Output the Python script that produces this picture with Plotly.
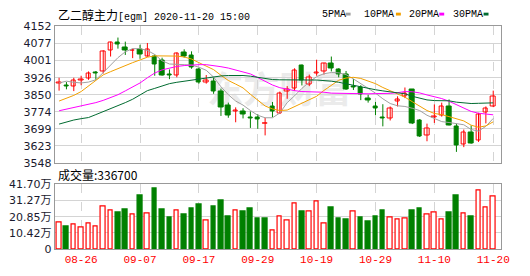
import plotly.graph_objects as go

# ---------------- data ----------------
dates = ["2020-08-21", "2020-08-24", "2020-08-25", "2020-08-26", "2020-08-27", "2020-08-28",
         "2020-08-31", "2020-09-01", "2020-09-02", "2020-09-03", "2020-09-04", "2020-09-07",
         "2020-09-08", "2020-09-09", "2020-09-10", "2020-09-11", "2020-09-14", "2020-09-15",
         "2020-09-16", "2020-09-17", "2020-09-18", "2020-09-21", "2020-09-22", "2020-09-23",
         "2020-09-24", "2020-09-25", "2020-09-28", "2020-09-29", "2020-09-30", "2020-10-09",
         "2020-10-12", "2020-10-13", "2020-10-14", "2020-10-15", "2020-10-16", "2020-10-19",
         "2020-10-20", "2020-10-21", "2020-10-22", "2020-10-23", "2020-10-26", "2020-10-27",
         "2020-10-28", "2020-10-29", "2020-10-30", "2020-11-02", "2020-11-03", "2020-11-04",
         "2020-11-05", "2020-11-06", "2020-11-09", "2020-11-10", "2020-11-11", "2020-11-12",
         "2020-11-13", "2020-11-16", "2020-11-17", "2020-11-18", "2020-11-19", "2020-11-20"]

opens = [3900, 3892, 3888, 3915, 3923, 3948, 3953, 4048, 4082, 4058, 4044, 4051,
         4020, 4020, 4003, 3939, 3933, 4035, 4023, 3962, 3903, 3910, 3863, 3804,
         3774, 3774, 3749, 3750, 3721, 3798, 3767, 3863, 3877, 3981, 3896, 3944,
         3955, 3989, 3961, 3939, 3888, 3882, 3835, 3798, 3750, 3745, 3819, 3840,
         3871, 3736, 3668, 3749, 3759, 3798, 3710, 3630, 3682, 3647, 3773, 3798]
highs = [3925, 3906, 3925, 3934, 3953, 3955, 4047, 4085, 4103, 4085, 4054, 4071,
         4079, 4028, 4014, 3962, 4037, 4051, 4042, 3969, 3937, 3925, 3877, 3815,
         3794, 3790, 3776, 3764, 3748, 3818, 3864, 3888, 3967, 3983, 3939, 4005,
         3991, 4019, 3967, 3955, 3920, 3892, 3850, 3818, 3808, 3798, 3843, 3882,
         3875, 3742, 3722, 3807, 3815, 3829, 3722, 3696, 3714, 3770, 3798, 3868]
lows = [3868, 3874, 3866, 3892, 3916, 3916, 3944, 4019, 4054, 4026, 4012, 4009,
        4018, 3934, 3934, 3919, 3927, 4014, 3965, 3899, 3899, 3854, 3756, 3748,
        3728, 3745, 3703, 3699, 3670, 3750, 3765, 3832, 3868, 3891, 3888, 3934,
        3939, 3953, 3927, 3871, 3871, 3826, 3815, 3759, 3710, 3736, 3798, 3835,
        3720, 3663, 3644, 3725, 3753, 3714, 3597, 3618, 3633, 3641, 3723, 3795]
closes = [3905, 3886, 3912, 3919, 3943, 3944, 4042, 4079, 4073, 4044, 4047, 4028,
          4049, 3986, 3937, 3936, 4034, 4019, 3969, 3902, 3913, 3864, 3794, 3756,
          3778, 3762, 3746, 3739, 3724, 3776, 3854, 3874, 3958, 3913, 3925, 3948,
          3988, 3965, 3941, 3874, 3882, 3850, 3823, 3790, 3745, 3790, 3829, 3854,
          3722, 3666, 3701, 3752, 3797, 3714, 3625, 3682, 3633, 3762, 3791, 3840]

volumes = [170500, 148000, 158000, 142000, 164000, 146000, 275000, 251000, 234000, 253000,
           220000, 345000, 232000, 394000, 253000, 203000, 251000, 222000, 259000, 290000,
           183000, 277000, 314000, 210000, 246000, 240000, 259000, 197000, 199000, 121000,
           207000, 183000, 294000, 240000, 244000, 306000, 164000, 271000, 197000, 191000,
           244000, 203000, 179000, 210000, 246000, 203000, 191000, 195000, 246000, 265000,
           226000, 238000, 189000, 234000, 345000, 232000, 210000, 376000, 269000, 336700]

ma5 = [3902, 3910, 3905, 3902, 3906, 3916, 3948, 3983, 4014, 4040, 4054, 4054,
       4046, 4028, 4000, 3986, 3983, 3983, 3981, 3972, 3958, 3928, 3885, 3850,
       3822, 3804, 3780, 3759, 3748, 3748, 3769, 3815, 3845, 3878, 3906, 3930,
       3943, 3948, 3947, 3939, 3920, 3899, 3878, 3857, 3832, 3811, 3801, 3798,
       3790, 3780, 3759, 3745, 3731, 3727, 3722, 3717, 3696, 3689, 3710, 3745]
ma10 = [3822, 3833, 3847, 3864, 3888, 3910, 3938, 3952, 3966, 3978, 3992, 4004,
        4016, 4022, 4022, 4021, 4021, 4017, 4008, 3992, 3978, 3961, 3936, 3913,
        3897, 3880, 3852, 3824, 3800, 3787, 3780, 3782, 3797, 3811, 3825, 3843,
        3869, 3892, 3914, 3924, 3927, 3922, 3911, 3899, 3882, 3867, 3851, 3839,
        3819, 3798, 3780, 3767, 3762, 3753, 3744, 3734, 3715, 3706, 3712, 3730]
ma20 = [3779, 3786, 3793, 3798, 3805, 3815, 3825, 3836, 3850, 3867, 3885, 3902,
        3925, 3946, 3960, 3969, 3975, 3979, 3982, 3983, 3983, 3980, 3974, 3968,
        3960, 3953, 3942, 3926, 3909, 3893, 3881, 3873, 3868, 3864, 3864, 3863,
        3861, 3857, 3856, 3855, 3854, 3853, 3854, 3855, 3854, 3856, 3859, 3864,
        3863, 3858, 3849, 3841, 3833, 3821, 3805, 3790, 3776, 3768, 3763, 3761]
ma30 = [3720, 3730, 3738, 3744, 3749, 3762, 3775, 3786, 3800, 3815, 3830, 3850,
        3868, 3878, 3889, 3899, 3905, 3910, 3913, 3917, 3925, 3930, 3933, 3935,
        3936, 3935, 3932, 3927, 3922, 3917, 3916, 3915, 3916, 3916, 3915, 3915,
        3914, 3910, 3905, 3898, 3892, 3886, 3879, 3872, 3867, 3863, 3858, 3854,
        3843, 3835, 3827, 3824, 3824, 3823, 3817, 3813, 3811, 3812, 3813, 3814]

price_ticks = [3548, 3623.5, 3699, 3774.5, 3850, 3925.5, 4001, 4076.5, 4152]
price_tick_text = ["3548", "3623", "3699", "3774", "3850", "3926", "4001", "4077", "4152"]
vol_ticks = [0, 104250, 208500, 312750, 417000]
vol_tick_text = ["0", "10.42万", "20.85万", "31.27万", "41.70万"]
label_dates = ["2020-08-26", "2020-09-07", "2020-09-17", "2020-09-29",
               "2020-10-19", "2020-10-29", "2020-11-10", "2020-11-20"]
ma_names = ["5PMA", "10PMA", "20PMA", "30PMA"]
title_cn = "乙二醇主力"
title_rest = "[egm] 2020-11-20 15:00"
last_volume_label = "成交量:336700"

# ---------------- styles ----------------
RED = "#ff0000"
GREEN = "#008000"
MA_COLORS = ["#a0a0a0", "#f2a000", "#ff00ff", "#006b30"]
GRID = "#d4d4d4"
BORDER = "#999999"

W, H = 530, 276
PX_L, PX_R = 55.5, 509
P_TOP, P_BOT = 21.5, 164.7
V_TOP, V_BOT = 187.3, 255

x = list(range(len(dates)))
up = [c >= o for o, c in zip(opens, closes)]
vol_up = [True] + [closes[i] >= closes[i - 1] for i in range(1, len(closes))]

fig = go.Figure()

# wicks
for flag, col in ((True, RED), (False, GREEN)):
    wx, wy = [], []
    for i in x:
        if up[i] == flag:
            wx += [i, i, None]
            wy += [lows[i], highs[i], None]
    fig.add_trace(go.Scatter(x=wx, y=wy, mode="lines", line=dict(color=col, width=1),
                             hoverinfo="skip", showlegend=False, xaxis="x", yaxis="y"))

# bodies
for flag, fill, col in ((True, "white", RED), (False, GREEN, GREEN)):
    bx = [i for i in x if up[i] == flag]
    base = [min(opens[i], closes[i]) for i in bx]
    hgt = [max(abs(closes[i] - opens[i]), 1) for i in bx]
    fig.add_trace(go.Bar(x=bx, y=hgt, base=base, width=0.6,
                         marker=dict(color=fill, line=dict(color=col, width=1)),
                         showlegend=False, xaxis="x", yaxis="y"))

# moving averages
for ma, col in zip((ma5, ma10, ma20, ma30), MA_COLORS):
    fig.add_trace(go.Scatter(x=x, y=ma, mode="lines", line=dict(color=col, width=1),
                             showlegend=False, xaxis="x", yaxis="y"))

# volume
for flag, fill, col in ((True, "white", RED), (False, GREEN, GREEN)):
    vx = [i for i in x if vol_up[i] == flag]
    fig.add_trace(go.Bar(x=vx, y=[volumes[i] for i in vx], width=0.62,
                         marker=dict(color=fill, line=dict(color=col, width=1.2)),
                         showlegend=False, xaxis="x2", yaxis="y2"))

xdom = [PX_L / W, PX_R / W]
tick_idx = [dates.index(d) for d in label_dates]
xr = [-0.6, len(dates) + 0.1]

axis_common = dict(showline=True, linecolor=BORDER, linewidth=1, mirror=True,
                   zeroline=False, fixedrange=True)

fig.update_layout(
    width=W, height=H, margin=dict(l=0, r=0, t=0, b=0),
    paper_bgcolor="white", plot_bgcolor="white", barmode="overlay", bargap=0,
    showlegend=False,
    xaxis=dict(domain=xdom, range=xr, tickvals=tick_idx, showticklabels=False,
               showgrid=True, gridcolor=GRID, griddash="dash", gridwidth=1,
               anchor="y", **axis_common),
    yaxis=dict(domain=[1 - P_BOT / H, 1 - P_TOP / H], range=[price_ticks[0], price_ticks[-1]],
               tickvals=price_ticks, ticktext=price_tick_text, showgrid=True,
               gridcolor=GRID, gridwidth=1, anchor="x",
               tickfont=dict(family="DejaVu Sans", size=11, color="#1a1a2e"),
               **axis_common),
    xaxis2=dict(domain=xdom, range=xr, tickvals=tick_idx,
                ticktext=[d[5:] for d in label_dates], showgrid=True, gridcolor=GRID,
                griddash="dash", gridwidth=1, anchor="y2",
                tickfont=dict(family="Liberation Mono", size=11, color=RED),
                **axis_common),
    yaxis2=dict(domain=[1 - V_BOT / H, 1 - V_TOP / H], range=[vol_ticks[0], vol_ticks[-1]],
                tickvals=vol_ticks, ticktext=vol_tick_text, showgrid=True,
                gridcolor=GRID, gridwidth=1, anchor="x2",
                tickfont=dict(family="DejaVu Sans, Noto Sans CJK SC", size=11, color="#1a1a2e"),
                **axis_common),
)

annotations = [
    dict(x=57 / W, y=1 - 8.5 / H, xref="paper", yref="paper", xanchor="left", yanchor="middle",
         showarrow=False,
         text=f"<span style='font-family:Noto Sans CJK SC;font-size:12px'>{title_cn}</span>{title_rest}",
         font=dict(family="Liberation Mono", size=10, color="#000")),
    dict(x=57 / W, y=1 - 177 / H, xref="paper", yref="paper", xanchor="left", yanchor="middle",
         showarrow=False, text=last_volume_label,
         font=dict(family="Noto Sans CJK SC", size=12, color="#000")),
]
shapes = [
    dict(type="rect", xref="paper", yref="paper", layer="below",
         x0=192 / W, x1=375 / W, y0=1 - 110 / H, y1=1 - 72 / H,
         line=dict(width=0), fillcolor="rgba(0,0,0,0)",
         label=dict(text="东方财富", font=dict(family="Noto Sans CJK SC", size=36,
                                               color="#ebebeb", weight="bold"),
                    textposition="middle center")),
]
leg_text_x = [325, 368, 413, 458]
leg_box_x = [351, 402, 446, 491]
for name, col, tx, bxp in zip(ma_names, MA_COLORS, leg_text_x, leg_box_x):
    annotations.append(dict(x=tx / W, y=1 - 8.5 / H, xref="paper", yref="paper",
                            xanchor="left", yanchor="middle", showarrow=False, text=name,
                            font=dict(family="Liberation Mono", size=10, color="#000")))
    shapes.append(dict(type="rect", xref="paper", yref="paper",
                       x0=bxp / W, x1=(bxp + 5) / W, y0=1 - 10 / H, y1=1 - 7 / H,
                       line=dict(width=0), fillcolor=col))

fig.update_layout(annotations=annotations, shapes=shapes)
fig.write_html("out.html")
